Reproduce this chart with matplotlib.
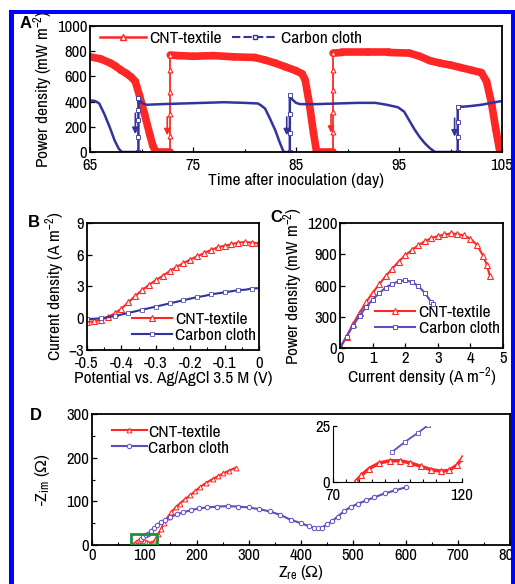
import matplotlib
matplotlib.use("Agg")
import matplotlib.pyplot as plt
import numpy as np
from matplotlib.collections import LineCollection
from matplotlib.patches import Rectangle
from matplotlib.ticker import MultipleLocator

plt.rcParams["font.family"] = ["Archivo Narrow", "Liberation Sans", "DejaVu Sans"]
plt.rcParams["mathtext.fontset"] = "custom"
plt.rcParams["mathtext.rm"] = "Archivo Narrow"
plt.rcParams["mathtext.it"] = "Archivo Narrow"
plt.rcParams["mathtext.fallback"] = "stixsans"
plt.rcParams["mathtext.default"] = "rm"
plt.rcParams["font.size"] = 12.5

RED = "#ff2626"
BLUE = "#33339e"
PURPLE = "#5e4cc0"

# A: power density over time (days)
red_day = [65, 66, 67, 67.5, 68, 68.5, 69, 69.4, 69.8, 70.3, 70.8, 71.1, 71.4,
           72.8, 72.8, 72.8, 72.8, 72.8, 72.8,
           73.5, 75, 77, 79, 81, 82, 83, 84, 85,
           85.6, 85.9, 86.3, 86.7, 87.0,
           88.6, 88.6, 88.6, 88.6, 88.6, 88.6,
           89.5, 92, 94, 96, 97, 98, 99, 100, 101, 102, 103,
           103.5, 104, 104.4, 104.8]
red_pw = [755, 740, 705, 680, 650, 625, 595, 560, 450, 300, 140, 50, 0,
          0, 130, 300, 480, 650, 770,
          765, 760, 765, 755, 750, 730, 705, 675, 645,
          620, 570, 380, 150, 0,
          0, 160, 320, 490, 650, 785,
          790, 790, 790, 785, 760, 725, 705, 690, 670, 650, 630,
          560, 380, 180, 0]
blue_day = [65, 65.5, 65.9, 66.4, 66.9, 67.4, 67.8, 68.1,
            69.7, 69.7, 69.7, 69.7, 69.7,
            70.0, 70.5, 72, 74, 76, 78, 80,
            81.3, 81.6, 82.0, 82.5, 83.0, 83.4, 83.8,
            84.4, 84.4, 84.4, 84.4,
            84.6, 85.0, 85.4, 87, 89, 91, 92.7, 93.8, 94.9,
            95.5, 96.0, 96.5, 97.0, 97.5, 98.0, 98.5,
            100.7, 100.7, 100.7, 100.7,
            101.3, 102, 103, 104, 105]
blue_pw = [410, 405, 385, 300, 200, 90, 25, 0,
           0, 120, 250, 330, 430,
           390, 375, 380, 385, 390, 395, 390,
           385, 370, 345, 260, 170, 80, 0,
           0, 150, 300, 450,
           420, 390, 380, 380, 385, 390, 390, 375, 355,
           320, 250, 180, 120, 70, 30, 0,
           0, 120, 240, 360,
           360, 365, 375, 390, 405]
# medium refill arrows
blue_arrow_day = [69.4, 84.1, 100.4]
blue_arrow_top = [330, 300, 290]
blue_arrow_bot = [120, 110, 100]
red_arrow_day = [72.5, 88.4]
red_arrow_top = [300, 320]
red_arrow_bot = [110, 130]

# B: polarization curves
pot = [-0.50, -0.48, -0.46, -0.44, -0.42, -0.40, -0.38, -0.36, -0.34, -0.32,
       -0.30, -0.28, -0.26, -0.24, -0.22, -0.20, -0.18, -0.16, -0.14, -0.12,
       -0.10, -0.08, -0.06, -0.04, -0.02, 0.00]
cur_cnt = [-0.35, -0.3, -0.15, 0.1, 0.45, 0.9, 1.5, 2.1, 2.65, 3.15,
           3.6, 4.0, 4.45, 4.85, 5.2, 5.55, 5.85, 6.15, 6.45, 6.7,
           6.85, 7.0, 7.15, 7.2, 7.15, 7.1]
cur_cc = [-0.1, -0.05, 0.0, 0.1, 0.2, 0.35, 0.5, 0.65, 0.8, 0.95,
          1.1, 1.25, 1.4, 1.55, 1.7, 1.85, 2.0, 2.1, 2.25, 2.35,
          2.45, 2.55, 2.65, 2.7, 2.8, 2.85]

# C: power curves
j_cnt = [0, 0.2, 0.4, 0.6, 0.8, 1.0, 1.2, 1.4, 1.6, 1.8, 2.0, 2.2, 2.4,
         2.6, 2.8, 3.0, 3.2, 3.4, 3.6, 3.8, 4.0, 4.2, 4.4, 4.5, 4.6]
p_cnt = [0, 110, 230, 340, 440, 530, 610, 690, 760, 830, 890, 940, 985,
         1025, 1055, 1075, 1090, 1100, 1095, 1080, 1050, 990, 880, 800, 690]
j_cc = [0, 0.2, 0.4, 0.6, 0.8, 1.0, 1.2, 1.4, 1.6, 1.8, 2.0, 2.2, 2.4,
        2.6, 2.8, 2.85]
p_cc = [0, 110, 215, 310, 395, 465, 525, 580, 615, 640, 650, 635, 595,
        530, 440, 420]

# D: Nyquist plots
zre_cnt = [79, 81, 84, 88, 92, 96, 100, 104, 108, 112, 115, 118, 120, 123,
           127, 132, 138, 145, 152, 160, 168, 178, 188, 198, 207, 218, 232,
           242, 251, 262, 275]
zim_cnt = [0.5, 3, 6, 8.5, 9.5, 9.5, 8.5, 7, 5.5, 4.8, 5.2, 7.5, 10.5, 16,
           25, 36, 50, 64, 75, 86, 95, 105, 114, 124, 133, 142, 152,
           158, 164, 170, 177]
zre_cc = [93, 98, 103, 107, 112, 118, 124, 132, 140, 150, 162, 175, 190, 205,
          220, 240, 260, 280, 300, 320, 340, 360, 380, 400, 415, 425, 433,
          440, 450, 460, 470, 482, 495, 510, 525, 540, 560, 580, 600]
zim_cc = [13.5, 18, 22, 25.5, 31, 38, 45, 52, 58, 64, 70, 75, 80, 84,
          86, 88, 89, 88, 86, 82, 77, 69, 58, 50, 43, 40, 38,
          40, 47, 55, 65, 77, 87, 95, 102, 109, 118, 125, 132]
inset_x = (70, 120)
inset_y = (0, 25)

W, H = 515, 584
TICK = 12
LEG = 12.5


def px_axes(fig, left, top, right, bottom):
    return fig.add_axes([left / W, 1 - bottom / H, (right - left) / W, (bottom - top) / H])


def style(ax):
    ax.tick_params(direction="in", length=3.5, width=0.9, pad=2, labelsize=TICK)
    ax.tick_params(which="minor", direction="in", length=2, width=0.8)
    for s in ax.spines.values():
        s.set_linewidth(1.3)


def jump_mask(x):
    # points that sit on a vertical (same-day) jump
    x = np.asarray(x)
    same = np.diff(x) == 0
    m = np.zeros(len(x), bool)
    m[:-1] |= same
    m[1:] |= same
    return m


def panel_letter(fig, x, y, s):
    fig.text(x / W, 1 - y / H, s, fontsize=12, fontweight="bold", va="center",
             family="Liberation Sans")


fig = plt.figure(figsize=(W / 100, H / 100), dpi=100)

# blue frame around the figure
for (x0, y0, w, h) in [(9, 0, 5, 574), (9, 570, 506, 4), (511, 0, 4, 574)]:
    fig.add_artist(Rectangle((x0 / W, y0 / H), w / W, h / H, transform=fig.transFigure,
                             color="#0000ff", lw=0))

# ---- A ----------------------------------------------------------------------
axA = px_axes(fig, 90, 26, 502, 152)
style(axA)
pts = np.column_stack([red_day, red_pw])
segs = np.stack([pts[:-1], pts[1:]], axis=1)
widths = np.where(np.diff(red_day) == 0, 1.3, 5.5)
axA.add_collection(LineCollection(segs, colors=RED, linewidths=widths, capstyle="round",
                                  joinstyle="round"))
rm = jump_mask(red_day)
axA.plot(np.array(red_day)[rm], np.array(red_pw)[rm], ls="none", marker="^", ms=3.5,
         mfc="white", mec=RED, mew=0.8)
axA.plot(blue_day, blue_pw, color=BLUE, lw=1.8)
bm = jump_mask(blue_day)
axA.plot(np.array(blue_day)[bm], np.array(blue_pw)[bm], ls="none", marker="s", ms=2.5,
         mfc="white", mec=BLUE, mew=0.6)
for d, t, b in zip(blue_arrow_day, blue_arrow_top, blue_arrow_bot):
    axA.annotate("", xy=(d, b), xytext=(d, t),
                 arrowprops=dict(arrowstyle="-|>", color=BLUE, lw=1.2, mutation_scale=9))
for d, t, b in zip(red_arrow_day, red_arrow_top, red_arrow_bot):
    axA.annotate("", xy=(d, b), xytext=(d, t),
                 arrowprops=dict(arrowstyle="-|>", color=RED, lw=1.2, mutation_scale=9))
axA.set_xlim(65, 105)
axA.set_ylim(0, 1000)
axA.set_xticks([65, 75, 85, 95, 105])
axA.xaxis.set_minor_locator(MultipleLocator(5))
axA.yaxis.set_major_locator(MultipleLocator(200))
axA.tick_params(axis="x", pad=4)
axA.set_xlabel("Time after inoculation (day)", labelpad=0)
axA.set_ylabel("Power density (mW m$^{-2}$)", labelpad=1)
hA = [plt.Line2D([], [], color=RED, lw=1.8, marker="^", ms=4, mfc="white", mec=RED),
      plt.Line2D([], [], color=BLUE, lw=1.5, ls=(0, (4, 1.5)), marker="s", ms=3,
                 mfc="white", mec=BLUE)]
axA.legend(hA, ["CNT-textile", "Carbon cloth"], ncol=2, frameon=False, loc="center left",
           bbox_to_anchor=(0.0, 0.9), fontsize=LEG, handlelength=2.6, handletextpad=0.2,
           columnspacing=0.6, numpoints=1, borderaxespad=0.2)
panel_letter(fig, 20, 24, "A")

# ---- B ----------------------------------------------------------------------
axB = px_axes(fig, 87, 223, 259, 350)
style(axB)
axB.plot(pot, cur_cnt, color=RED, lw=1.5, marker="^", ms=4, mfc="white", mec=RED, mew=0.8,
         label="CNT-textile")
axB.plot(pot, cur_cc, color=BLUE, lw=1.5, marker="s", ms=2.2, mfc="white", mec=BLUE,
         mew=0.5, markevery=2, label="Carbon cloth")
axB.set_xlim(-0.5, 0)
axB.set_ylim(-3, 9)
axB.xaxis.set_minor_locator(MultipleLocator(0.05))
axB.yaxis.set_major_locator(MultipleLocator(3))
axB.set_xticks([-0.5, -0.4, -0.3, -0.2, -0.1, 0])
axB.set_xticklabels(["-0.5", "-0.4", "-0.3", "-0.2", "-0.1", "0"])
axB.tick_params(axis="x", pad=4)
axB.set_xlabel("Potential vs. Ag/AgCl 3.5 M (V)", labelpad=0)
axB.set_ylabel("Current density (A m$^{-2}$)", labelpad=1)
axB.legend(frameon=False, loc="lower left", bbox_to_anchor=(0.17, -0.07), fontsize=LEG,
           handlelength=2.3, handletextpad=0.2, numpoints=1, labelspacing=0.05)
panel_letter(fig, 28, 222, "B")

# ---- C ----------------------------------------------------------------------
axC = px_axes(fig, 340, 223, 503, 348)
style(axC)
axC.plot(j_cnt, p_cnt, color=RED, lw=1.5, marker="^", ms=4.5, mfc="white", mec=RED,
         mew=0.8, label="CNT-textile")
axC.plot(j_cc, p_cc, color=PURPLE, lw=1.5, marker="s", ms=3.2, mfc="white", mec=PURPLE,
         mew=0.7, label="Carbon cloth")
axC.set_xlim(0, 5)
axC.set_ylim(0, 1200)
axC.xaxis.set_major_locator(MultipleLocator(1))
axC.yaxis.set_major_locator(MultipleLocator(300))
axC.set_xlabel("Current density (A m$^{-2}$)", labelpad=0)
axC.set_ylabel("Power density (mW m$^{-2}$)", labelpad=1)
axC.legend(frameon=False, loc="lower left", bbox_to_anchor=(0.12, -0.03), fontsize=LEG,
           handlelength=2.3, handletextpad=0.2, numpoints=1, labelspacing=0.05)
panel_letter(fig, 270, 218, "C")

# ---- D ----------------------------------------------------------------------
axD = px_axes(fig, 92, 414, 510, 545)
style(axD)
axD.plot(zre_cnt, zim_cnt, color=RED, lw=1.5, marker="^", ms=3.5, mfc="white", mec=RED,
         mew=0.7, label="CNT-textile")
axD.plot(zre_cc, zim_cc, color=PURPLE, lw=1.5, marker="o", ms=3.2, mfc="white",
         mec=PURPLE, mew=0.7, label="Carbon cloth")
axD.add_patch(Rectangle((inset_x[0] + 5, inset_y[0]), inset_x[1] - inset_x[0],
                        inset_y[1] - inset_y[0], fill=False, ec="#1f8f3a", lw=2, zorder=5))
axD.set_xlim(0, 800)
axD.set_ylim(0, 300)
axD.xaxis.set_major_locator(MultipleLocator(100))
axD.xaxis.set_minor_locator(MultipleLocator(50))
axD.yaxis.set_major_locator(MultipleLocator(100))
axD.yaxis.set_minor_locator(MultipleLocator(50))
axD.set_xlabel(r"Z$_{re}$ ($\Omega$)", labelpad=0)
axD.set_ylabel(r"-Z$_{im}$ ($\Omega$)", labelpad=10)
axD.legend(frameon=False, loc="upper left", bbox_to_anchor=(0.01, 1.04), fontsize=LEG,
           handlelength=2.0, handletextpad=0.1, numpoints=1, labelspacing=0.05)
panel_letter(fig, 30, 415, "D")

axI = px_axes(fig, 333, 426, 462, 482)
axI.tick_params(direction="in", length=3, width=0.9, pad=2, labelsize=TICK)
axI.tick_params(axis="x", pad=4)
axI.tick_params(which="minor", direction="in", length=2, width=0.8)
axI.spines["top"].set_visible(False)
axI.spines["right"].set_visible(False)
axI.patch.set_alpha(0)
axI.plot(zre_cnt, zim_cnt, color=RED, lw=2.5, marker="^", ms=4.5, mfc="white", mec=RED,
         mew=0.8)
axI.plot(zre_cc, zim_cc, color=PURPLE, lw=1.3, marker="s", ms=3, mfc="white", mec=PURPLE,
         mew=0.6)
axI.set_xlim(*inset_x)
axI.set_ylim(*inset_y)
axI.set_xticks(inset_x)
axI.set_yticks(inset_y)
axI.xaxis.set_minor_locator(MultipleLocator(5))

fig.savefig("out.png", dpi=100, facecolor="white")
